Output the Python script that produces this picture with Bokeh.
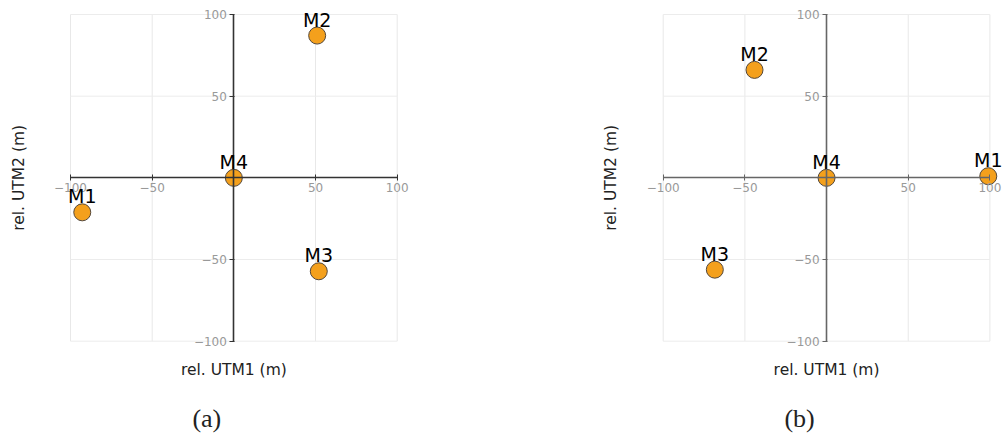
import math

from bokeh.core.properties import value
from bokeh.embed import file_html
from bokeh.layouts import row
from bokeh.models import (ColumnDataSource, FixedTicker, Label, LabelSet,
                          LinearAxis, Range1d)
from bokeh.plotting import figure
from bokeh.resources import INLINE

# Sensor positions relative to M4 (metres, UTM easting / northing offsets)
names = ["M1", "M2", "M3", "M4"]
layout_a_utm1 = [-92.8, 51.0, 52.0, 0.0]
layout_a_utm2 = [-21.1, 87.1, -57.2, 0.0]
layout_b_utm1 = [99.0, -44.1, -68.4, 0.0]
layout_b_utm2 = [1.0, 66.1, -56.2, 0.0]

tick_values = [-100, -50, 50, 100]
tick_text = {v: str(v).replace("-", "\u2212") for v in tick_values}

x_title = "rel. UTM1 (m)"
y_title = "rel. UTM2 (m)"
captions = ["(a)", "(b)"]

LIM = 100
PX_PER_M = 1.6335          # screen scale shared by both panels
HEIGHT = 434
MARKER = "#F4A01C"
FONT = "DejaVu Sans"


def tick_axis(color, width, t_in, t_out, standoff):
    return LinearAxis(fixed_location=0, bounds=(-LIM, LIM),
                      ticker=FixedTicker(ticks=tick_values),
                      major_label_overrides=tick_text,
                      axis_line_color=color, axis_line_width=width,
                      major_tick_line_color=color,
                      major_tick_in=t_in, major_tick_out=t_out,
                      minor_tick_line_color=None,
                      major_label_standoff=standoff,
                      major_label_text_color="#999999",
                      major_label_text_font=FONT,
                      major_label_text_font_size="12px")


def panel(xs, ys, caption, width, left_px, axis_color):
    # the frame fills the whole canvas; the +/-100 m square sits at left_px, 14 px
    x0 = -LIM - left_px / PX_PER_M
    y1 = LIM + 14 / PX_PER_M
    p = figure(width=width, height=HEIGHT,
               x_range=Range1d(x0, x0 + width / PX_PER_M),
               y_range=Range1d(y1 - HEIGHT / PX_PER_M, y1),
               x_axis_type=None, y_axis_type=None,
               output_backend="svg", toolbar_location=None,
               min_border=0)
    p.outline_line_color = None
    p.xgrid.visible = False
    p.ygrid.visible = False

    # light grid restricted to the +/-100 m square
    lo = [-LIM] * len(tick_values)
    hi = [LIM] * len(tick_values)
    p.segment(x0=tick_values, y0=lo, x1=tick_values, y1=hi,
              line_color="#e8e8e8", line_width=1)
    p.segment(x0=lo, y0=tick_values, x1=hi, y1=tick_values,
              line_color="#ececec", line_width=1)

    p.add_layout(tick_axis(axis_color, 1.3, 3, 3, 2), "below")
    p.add_layout(tick_axis(axis_color, 1.6, 1, 4, 3), "left")

    src = ColumnDataSource(dict(x=xs, y=ys, name=names))
    p.scatter("x", "y", source=src, size=17, fill_color=MARKER,
              line_color="#55483a", line_width=1)
    p.add_layout(LabelSet(x="x", y="y", text="name", source=src,
                          text_align="center", text_baseline="alphabetic",
                          y_offset=9, text_font=value(FONT),
                          text_font_size="19px", text_color="#000000"))

    # axis titles and panel caption
    p.add_layout(Label(x=0, y=-LIM, y_offset=-29, text=x_title,
                       text_align="center", text_baseline="middle",
                       text_font=FONT, text_font_size="15.5px",
                       text_color="#222222"))
    p.add_layout(Label(x=-LIM, y=0, x_offset=-52, text=y_title,
                       angle=math.pi / 2, text_align="center",
                       text_baseline="middle", text_font=FONT,
                       text_font_size="15.5px", text_color="#222222"))
    p.add_layout(Label(x=0, y=-LIM, x_offset=-27, y_offset=-77,
                       text=caption, text_align="center",
                       text_baseline="middle", text_font="Liberation Serif",
                       text_font_size="26px", text_color="#222222"))
    return p


pa = panel(layout_a_utm1, layout_a_utm2, captions[0], 592, 70.0, "#333333")
pb = panel(layout_b_utm1, layout_b_utm2, captions[1], 411, 70.7, "#666666")

page = row(pa, pb)
open("out.html", "w").write(file_html(page, INLINE))
